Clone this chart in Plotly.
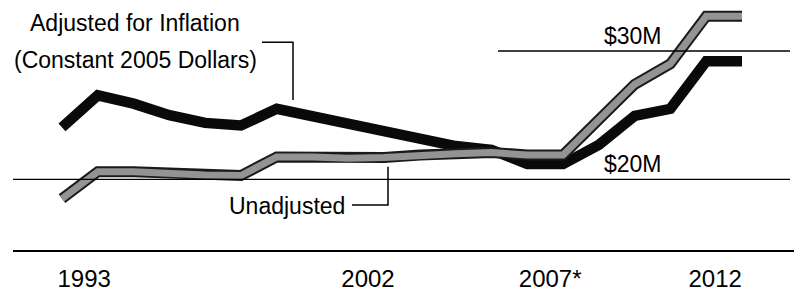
import plotly.graph_objects as go

# ---- data ----
years = list(range(1993, 2013))
adjusted = [24.05, 26.55, 25.9, 25.0, 24.4, 24.2, 25.5, 24.9, 24.3, 23.9,
            23.3, 22.6, 22.3, 21.2, 21.2, 22.7, 24.95, 25.5, 29.2, 29.2]
unadjusted = [18.5, 20.6, 20.6, 20.45, 20.35, 20.3, 21.75, 21.75, 21.65, 21.7,
              21.9, 22.0, 22.1, 21.9, 21.9, 24.65, 27.4, 29.0, 32.7, 32.7]
ref_levels = [20, 30]
ref_labels = ["$20M", "$30M"]
tick_labels = ["1993", "2002", "2007*", "2012"]
tick_positions = [1993.62, 2001.55, 2006.64, 2011.25]

W, H = 794, 292
PLOT_BOTTOM = 256
FONT = "Liberation Sans"

def px(x):
    return x / W

def py(y):
    return (PLOT_BOTTOM - y) / PLOT_BOTTOM

fig = go.Figure()
fig.add_trace(go.Scatter(x=years, y=adjusted, mode="lines",
                         line=dict(color="#0a0a0a", width=10.5), hoverinfo="skip"))
fig.add_trace(go.Scatter(x=years, y=unadjusted, mode="lines",
                         line=dict(color="#1a1a1a", width=11), hoverinfo="skip"))
fig.add_trace(go.Scatter(x=years, y=unadjusted, mode="lines",
                         line=dict(color="#939393", width=7), hoverinfo="skip"))

shapes = []
# baseline
shapes.append(dict(type="line", xref="paper", yref="paper", x0=px(13), x1=1,
                   y0=0, y1=0, line=dict(color="black", width=2)))
# reference lines
ref_starts = [px(13), px(498)]
for lvl, x0 in zip(ref_levels, ref_starts):
    shapes.append(dict(type="line", xref="paper", yref="y", x0=x0, x1=px(790),
                       y0=lvl, y1=lvl, line=dict(color="black", width=1.3)))
# leader lines
shapes.append(dict(type="path", xref="paper", yref="paper",
                   path=f"M {px(262)},{py(43)} L {px(293)},{py(43)} L {px(293)},{py(102)}",
                   line=dict(color="black", width=1.5)))
shapes.append(dict(type="path", xref="paper", yref="paper",
                   path=f"M {px(352)},{py(209)} L {px(388)},{py(209)} L {px(388)},{py(170)}",
                   line=dict(color="black", width=1.5)))

annotations = []
tf = dict(family=FONT, size=23, color="black")
annotations.append(dict(text="Adjusted for Inflation", xref="paper", yref="paper",
                        x=px(135), y=py(23.5), xanchor="center", yanchor="middle",
                        showarrow=False, font=tf))
annotations.append(dict(text="(Constant 2005 Dollars)", xref="paper", yref="paper",
                        x=px(135), y=py(61), xanchor="center", yanchor="middle",
                        showarrow=False, font=tf))
annotations.append(dict(text="Unadjusted", xref="paper", yref="paper",
                        x=px(347), y=py(210.5), xanchor="right", yanchor="middle",
                        showarrow=False, font=tf))
for lvl, lab in zip(ref_levels, ref_labels):
    annotations.append(dict(text=lab, xref="paper", yref="y", x=px(664), y=lvl,
                            xanchor="right", yanchor="bottom", yshift=0,
                            showarrow=False, font=tf))

x_per_px = 19 / (742 - 62)
x_left = 1993 - 62 * x_per_px
x_right = 2012 + (W - 742) * x_per_px
y_per_px = 10 / 131.0
y_bottom = 20 - (PLOT_BOTTOM - 183) * y_per_px
y_top = 20 + 183 * y_per_px

fig.update_layout(
    width=W, height=H,
    margin=dict(l=0, r=0, t=0, b=H - PLOT_BOTTOM),
    paper_bgcolor="white", plot_bgcolor="white",
    showlegend=False,
    shapes=shapes, annotations=annotations,
    xaxis=dict(range=[x_left, x_right], tickvals=tick_positions, ticktext=tick_labels,
               showgrid=False, zeroline=False, showline=False,
               ticks="outside", ticklen=6, tickcolor="rgba(0,0,0,0)",
               tickfont=dict(family=FONT, size=24, color="black"), fixedrange=True),
    yaxis=dict(range=[y_bottom, y_top], showgrid=False, zeroline=False,
               showticklabels=False, showline=False, fixedrange=True),
)

fig.write_html("out.html", config={"displayModeBar": False},
               post_script="document.body.style.margin='0px';document.body.style.overflow='hidden';")
